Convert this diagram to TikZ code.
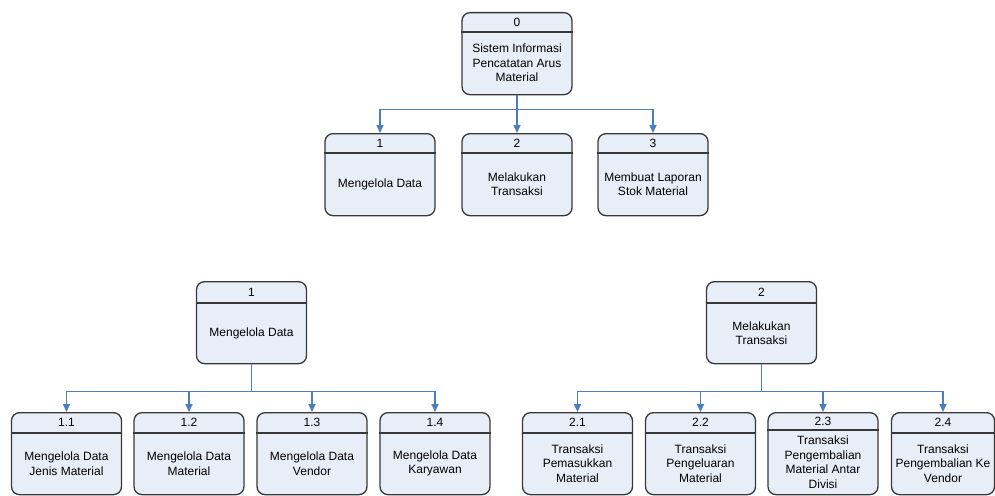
\documentclass[tikz,border=0pt]{standalone}
\usepackage{fontspec}
\setmainfont{Liberation Sans}
\usetikzlibrary{arrows.meta}
\definecolor{procfill}{HTML}{E8EEF7}
\definecolor{procline}{HTML}{383838}
\definecolor{flow}{HTML}{4A7EBF}

\tikzset{
  proc/.style={draw=procline, fill=procfill, line width=1.3pt, rounded corners=8pt,
    minimum width=110pt, minimum height=82pt, inner sep=0pt},
  divider/.style={draw=procline, line width=1.3pt},
  num/.style={font=\fontsize{12}{14}\selectfont, inner sep=0pt},
  lbl/.style={font=\fontsize{12}{14.5}\selectfont, align=center, inner sep=0pt},
  conn/.style={draw=flow, line width=1.6pt, -{Triangle[length=8pt,width=7pt]}},
}

% #1 width (optional), #2 name, #3 x centre, #4 y top, #5 header height,
% #6 process number, #7 process name
\newcommand\procbox[7][110]{%
  \node[proc, minimum width=#1pt, anchor=north] (#2) at (#3,#4) {};
  \draw[divider] ([yshift=-#5pt]#2.north west) -- ([yshift=-#5pt]#2.north east);
  \node[num] (#2-num) at ([yshift={-0.5*#5pt}]#2.north) {#6};
  \node[lbl] (#2-txt) at ([yshift={-41pt-0.5*#5pt}]#2.north) {#7};
}

\begin{document}
\begin{tikzpicture}[x=1pt, y=-1pt]
  \path[use as bounding box] (0,0) rectangle (995,495);
  \clip (0,0) rectangle (995,495);

  % context level
  \procbox{p0}{517}{12}{20}{0}{Sistem Informasi\\Pencatatan Arus\\Material}
  \procbox{p1}{380}{133}{20}{1}{Mengelola Data}
  \procbox{p2}{517}{133}{20}{2}{Melakukan\\Transaksi}
  \procbox{p3}{653}{133}{20}{3}{Membuat Laporan\\Stok Material}

  \foreach \t in {p1,p2,p3}
    \draw[conn] (p0.south) -- ++(0,14) -| (\t.north);

  % decomposition of process 1
  \procbox{q1}{251.5}{281}{22}{1}{Mengelola Data}
  \procbox{q11}{66.5}{412}{21}{1.1}{Mengelola Data\\Jenis Material}
  \procbox{q12}{189}{412}{21}{1.2}{Mengelola Data\\Material}
  \procbox{q13}{312}{412}{21}{1.3}{Mengelola Data\\Vendor}
  \procbox{q14}{435}{412}{21}{1.4}{Mengelola Data\\Karyawan}

  \foreach \t in {q11,q12,q13,q14}
    \draw[conn] (q1.south) -- ++(0,27) -| (\t.north);

  % decomposition of process 2
  \procbox{r2}{761.5}{281}{22}{2}{Melakukan\\Transaksi}
  \procbox{r21}{577.5}{412}{21}{2.1}{Transaksi\\Pemasukkan\\Material}
  \procbox{r22}{700.5}{412}{21}{2.2}{Transaksi\\Pengeluaran\\Material}
  \procbox{r23}{823}{412}{18}{2.3}{Transaksi\\Pengembalian\\Material Antar\\Divisi}
  \procbox[103]{r24}{943}{412}{21}{2.4}{Transaksi\\Pengembalian Ke\\Vendor}

  \foreach \t in {r21,r22,r23,r24}
    \draw[conn] (r2.south) -- ++(0,27) -| (\t.north);
\end{tikzpicture}
\end{document}
